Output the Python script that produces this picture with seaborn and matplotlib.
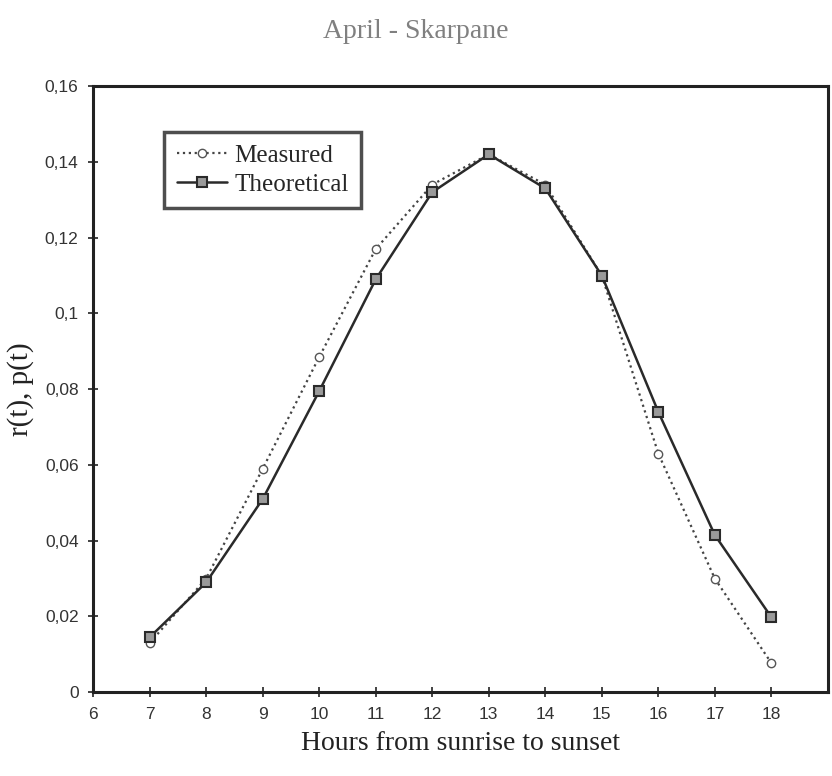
import matplotlib.pyplot as plt
import matplotlib.ticker as mticker
import numpy as np
import pandas as pd
import seaborn as sns

sns.set_style('white')
plt.rcParams['xtick.bottom'] = True
plt.rcParams['ytick.left'] = True

# values
hours = [7, 8, 9, 10, 11, 12, 13, 14, 15, 16, 17, 18]
measured = [0.013, 0.030, 0.059, 0.0885, 0.117, 0.134, 0.142, 0.134, 0.110, 0.063, 0.030, 0.0077]
theoretical = [0.0145, 0.029, 0.051, 0.0795, 0.109, 0.132, 0.142, 0.133, 0.110, 0.074, 0.0415, 0.0198]

df = pd.DataFrame({
    'hour': hours * 2,
    'value': measured + theoretical,
    'series': ['Measured'] * len(hours) + ['Theoretical'] * len(hours),
})

fig = plt.figure(figsize=(8.32, 7.76), dpi=100)
ax = fig.add_axes([0.112, 0.108, 0.883, 0.781])

sns.lineplot(data=df[df.series == 'Measured'], x='hour', y='value', ax=ax,
             color='#444444', linestyle=':', linewidth=1.6, marker='o',
             markersize=6, markerfacecolor='white', markeredgecolor='#555555',
             markeredgewidth=1.0, label='Measured')
sns.lineplot(data=df[df.series == 'Theoretical'], x='hour', y='value', ax=ax,
             color='#2a2a2a', linestyle='-', linewidth=1.8, marker='s',
             markersize=7, markerfacecolor='#9a9a9a', markeredgecolor='#2a2a2a',
             markeredgewidth=1.5, label='Theoretical')

ax.set_xlim(6, 19)
ax.set_ylim(0, 0.16)
ax.set_xticks(range(6, 19))
ax.set_yticks(np.arange(0, 0.161, 0.02))
ax.yaxis.set_major_formatter(mticker.FuncFormatter(
    lambda v, p: '0' if v == 0 else f'{v:.2f}'.rstrip('0').replace('.', ',')))

for sp in ax.spines.values():
    sp.set_linewidth(2.2)
    sp.set_color('#222222')
    sp.set_visible(True)

ax.tick_params(axis='both', direction='inout', length=7, width=1.2, colors='#222222',
               labelsize=12.5, pad=7)
for lab in ax.get_xticklabels() + ax.get_yticklabels():
    lab.set_family(['Liberation Sans', 'DejaVu Sans'])
    lab.set_color('#333333')

ax.set_xlabel('Hours from sunrise to sunset', family=['Liberation Serif', 'DejaVu Serif'],
              fontsize=20, color='#222222', labelpad=7)
ax.set_ylabel('r(t), p(t)', family=['Liberation Serif', 'DejaVu Serif'],
              fontsize=21, color='#222222', labelpad=8)

fig.text(0.5, 0.96, 'April - Skarpane', ha='center', va='center',
         family=['Liberation Serif', 'DejaVu Serif'], fontsize=20, color='#808080')

leg = ax.legend(loc='upper left', bbox_to_anchor=(0.08, 0.945), fancybox=False,
                frameon=True, edgecolor='#222222', borderpad=0.5,
                handlelength=2.0, handletextpad=0.3, labelspacing=0.25,
                prop={'family': ['Liberation Serif', 'DejaVu Serif'], 'size': 18})
leg.get_frame().set_linewidth(2.5)

fig.savefig('out.png', dpi=100, facecolor='white')
